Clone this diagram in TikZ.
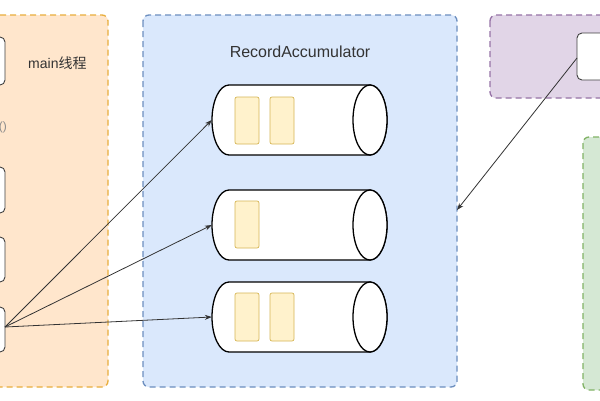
\documentclass[tikz,border=0pt]{standalone}
\usepackage{fontspec}
\setmainfont{Liberation Sans}
\newfontfamily\cjk{Noto Sans CJK SC}
\usetikzlibrary{arrows.meta}
\definecolor{orfill}{HTML}{FFE6CC}
\definecolor{ordraw}{HTML}{E8AE3C}
\definecolor{blfill}{HTML}{DAE8FC}
\definecolor{bldraw}{HTML}{6C8EBF}
\definecolor{pufill}{HTML}{E1D5E7}
\definecolor{pudraw}{HTML}{9673A6}
\definecolor{grfill}{HTML}{D5E8D4}
\definecolor{grdraw}{HTML}{82B366}
\definecolor{yefill}{HTML}{FFF2CC}
\definecolor{yedraw}{HTML}{D6B656}
\definecolor{txt}{HTML}{333333}
\tikzset{
  group/.style={dashed, dash pattern=on 6pt off 4pt, line width=1.3pt, rounded corners=6pt},
  wbox/.style={draw=black!75, fill=white, line width=0.9pt, rounded corners=5pt},
  item/.style={draw=yedraw, fill=yefill, line width=0.7pt, rounded corners=2pt},
  conn/.style={draw=black!80, line width=0.8pt, -{Stealth[length=7pt,width=5pt]}},
  cylline/.style={draw=black, line width=1.3pt, fill=white},
  lbl/.style={text=txt, inner sep=0pt}
}
\begin{document}
\begin{tikzpicture}[x=1pt,y=-1pt]
\useasboundingbox (0,0) rectangle (600,400);
\clip (0,0) rectangle (600,400);
\fill[white] (0,0) rectangle (600,400);
% groups
\draw[group, draw=ordraw, fill=orfill] (-30,15) rectangle (108,387);
\draw[group, draw=bldraw, fill=blfill] (143,15) rectangle (457,387);
\node[inner sep=0, minimum width=314, minimum height=372] (blue) at (300,201) {};
\draw[group, draw=pudraw, fill=pufill] (490,15) rectangle (640,98);
\draw[group, draw=grdraw, fill=grfill] (583,137) rectangle (640,390);
% left boxes
\draw[wbox] (-30,37) rectangle (5,85);
\draw[wbox] (-30,167) rectangle (5,213);
\draw[wbox] (-30,237) rectangle (5,282);
\draw[wbox] (-30,307) rectangle (5,352);
\node[inner sep=0, minimum width=35, minimum height=45] (src) at (-12.5,329.5) {};
\node[lbl, font=\fontsize{14}{16}\selectfont, anchor=west] (mainlbl) at (28,63) {main{\cjk 线程}};
\node[lbl, font=\fontsize{12}{14}\selectfont, anchor=east, text=black!45] (paren) at (7,127) {()};
% purple inner box
\draw[wbox] (577,33) rectangle (640,80);
\node[inner sep=0, minimum width=63, minimum height=47] (pin) at (608.5,56.5) {};
% title
\node[lbl, font=\fontsize{16}{18}\selectfont] (title) at (300,52) {RecordAccumulator};
% cylinders
\foreach \n/\y in {1/120, 2/225, 3/317}{
  \draw[cylline] (370,\y-35) -- (229,\y-35)
    arc[start angle=270, end angle=90, x radius=17, y radius=35]
    -- (370,\y+35)
    arc[start angle=90, end angle=-90, x radius=17, y radius=35] -- cycle;
  \draw[cylline] (370,\y) ellipse[x radius=17, y radius=35];
  \node[inner sep=0, minimum width=175, minimum height=70] (cyl\n) at (299.5,\y) {};
}
% records
\draw[item] (235,97) rectangle (259,144);
\draw[item] (270,97) rectangle (294,144);
\draw[item] (235,201) rectangle (259,248);
\draw[item] (235,293) rectangle (259,341);
\draw[item] (270,293) rectangle (294,341);
% connectors
\coordinate (s) at (5,327);
\draw[conn] (s) -- (cyl1.west);
\draw[conn] (s) -- (cyl2.west);
\draw[conn] (s) -- (cyl3.west);
\coordinate (bt) at (457,210);
\draw[conn] (577,58) -- (bt);
\end{tikzpicture}
\end{document}
